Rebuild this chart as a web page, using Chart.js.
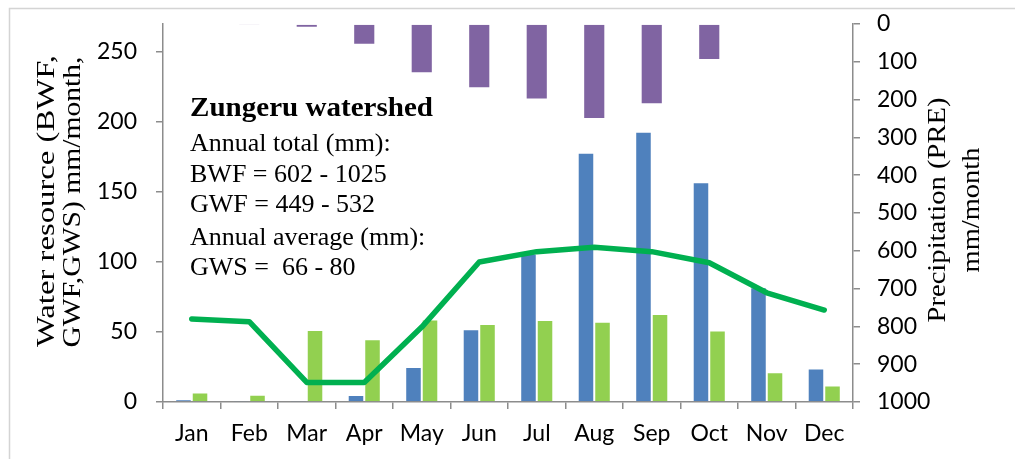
<!DOCTYPE html>
<html>
<head>
<meta charset="utf-8">
<script src="https://cdn.jsdelivr.net/npm/chart.js@4/dist/chart.umd.min.js"></script>
<style>
  html, body { margin: 0; padding: 0; background: #fff; }
  #wrap { position: relative; width: 1015px; height: 459px; }
</style>
</head>
<body>
<div id="wrap"><canvas id="c" width="1015" height="459"></canvas></div>
<script>
// Monthly water resources of the Zungeru watershed
const months = ['Jan', 'Feb', 'Mar', 'Apr', 'May', 'Jun', 'Jul', 'Aug', 'Sep', 'Oct', 'Nov', 'Dec'];
const bwf = [2, 1, 1, 5, 25, 52, 106, 178, 193, 157, 82, 24];          // blue water footprint, mm/month
const gwf = [6.7, 5.2, 51.4, 44.8, 59, 55.7, 58.6, 57.4, 62.9, 51, 21.2, 11.7]; // green water footprint
const gws = [59.3, 57.4, 14, 14, 53.5, 100, 107.4, 110.5, 107.4, 99.5, 78, 65.7]; // green water storage
const pre = [2, 3, 10, 55, 130, 170, 200, 251, 212, 95, 2, 0];         // precipitation, mm/month
const leftTicks = [0, 50, 100, 150, 200, 250];
const rightTicks = [0, 100, 200, 300, 400, 500, 600, 700, 800, 900, 1000];

const leftTitle = ['Water resource (BWF,', 'GWF,GWS) mm/month,'];
const rightTitle = ['Precipitation (PRE)', 'mm/month'];
const noteTitle = 'Zungeru watershed';
const noteLines = ['Annual total (mm):', 'BWF = 602 - 1025', 'GWF = 449 - 532', 'Annual average (mm):', 'GWS =  66 - 80'];

const AXIS = '#8c8c8c';
const TICK_FONT = { family: 'Lato', size: 23 };
const SERIF = '"Liberation Serif", "Times New Roman", serif';

// draw a text line stretched along its own direction to a given length
function fitText(ctx, text, x, y, angle, len, font, align) {
  ctx.save();
  ctx.font = font;
  ctx.translate(x, y);
  ctx.rotate(angle);
  const w = ctx.measureText(text).width;
  ctx.scale(len / w, 1);
  ctx.textAlign = align || 'center';
  ctx.textBaseline = align ? 'alphabetic' : 'middle';
  ctx.fillText(text, 0, 0);
  ctx.restore();
}

const frame = {
  id: 'frame',
  beforeDraw(chart) {
    const ctx = chart.ctx;
    ctx.save();
    ctx.fillStyle = '#fff';
    ctx.fillRect(0, 0, chart.width, chart.height);
    ctx.strokeStyle = '#d4d4d4';
    ctx.lineWidth = 1.5;
    ctx.strokeRect(9.5, 8.5, 1200, 600);
    ctx.restore();
  },
  afterDraw(chart) {
    const ctx = chart.ctx;
    ctx.save();
    ctx.fillStyle = '#000';
    // axis titles
    const f = '26px ' + SERIF;
    fitText(ctx, leftTitle[0], 47, 201, -Math.PI / 2, 292, f);
    fitText(ctx, leftTitle[1], 73, 202, -Math.PI / 2, 291, f);
    fitText(ctx, rightTitle[0], 938, 210, -Math.PI / 2, 225, f);
    fitText(ctx, rightTitle[1], 972, 210, -Math.PI / 2, 125, f);
    // note block
    fitText(ctx, noteTitle, 190, 116, 0, 243, 'bold 27px ' + SERIF, 'left');
    ctx.textAlign = 'left';
    ctx.textBaseline = 'alphabetic';
    ctx.font = '26px ' + SERIF;
    const ys = [151, 182, 212, 245, 275];
    noteLines.forEach((t, i) => ctx.fillText(t, 190, ys[i]));
    ctx.restore();
  }
};

const noVertPad = s => { s.paddingTop = 0; s.paddingBottom = 0; };

new Chart(document.getElementById('c'), {
  data: {
    labels: months,
    datasets: [
      { type: 'line', label: 'GWS', data: gws, yAxisID: 'y',
        borderColor: '#00B050', borderWidth: 5.5, pointRadius: 0, tension: 0,
        borderCapStyle: 'round', borderJoinStyle: 'round', order: 0 },
      { type: 'bar', label: 'BWF', data: bwf, yAxisID: 'y',
        backgroundColor: '#4F81BD', borderColor: 'rgba(255,255,255,0.35)', borderWidth: 1,
        categoryPercentage: 0.575, barPercentage: 1, order: 1 },
      { type: 'bar', label: 'GWF', data: gwf, yAxisID: 'y',
        backgroundColor: '#92D050', borderColor: 'rgba(255,255,255,0.35)', borderWidth: 1,
        categoryPercentage: 0.575, barPercentage: 1, order: 1 },
      { type: 'bar', label: 'PRE', data: pre, yAxisID: 'y2', grouped: false,
        backgroundColor: '#8064A2', borderColor: 'rgba(255,255,255,0.35)', borderWidth: 1,
        categoryPercentage: 0.385, barPercentage: 1, order: 2 }
    ]
  },
  options: {
    responsive: false,
    animation: false,
    layout: { padding: { top: 24, left: 0, right: 0, bottom: 0 } },
    plugins: { legend: { display: false }, tooltip: { enabled: false } },
    scales: {
      x: {
        type: 'category', position: 'bottom', offset: true,
        grid: { display: true, drawOnChartArea: false, offset: true, tickLength: 7, color: AXIS, lineWidth: 1.5 },
        border: { display: true, color: AXIS, width: 1.5 },
        ticks: { color: '#000', font: TICK_FONT, padding: 11, maxRotation: 0, autoSkip: false },
        afterFit(s) { s.height = 57; s.paddingLeft = 0; s.paddingRight = 0; }
      },
      y: {
        position: 'left', min: 0, max: 270,
        afterBuildTicks(s) { s.ticks = leftTicks.map(v => ({ value: v })); },
        grid: { drawOnChartArea: false, tickLength: 7, color: AXIS, lineWidth: 1.5 },
        border: { display: true, color: AXIS, width: 1.5 },
        ticks: { color: '#000', font: TICK_FONT, padding: 19, callback: v => String(v) },
        afterFit(s) { s.width = 163; noVertPad(s); }
      },
      y2: {
        position: 'right', min: 0, max: 1000, reverse: true,
        afterBuildTicks(s) { s.ticks = rightTicks.map(v => ({ value: v })); },
        grid: { drawOnChartArea: false, tickLength: 7, color: AXIS, lineWidth: 1.5 },
        border: { display: true, color: AXIS, width: 1.5 },
        ticks: { color: '#000', font: TICK_FONT, padding: 17, callback: v => String(v) },
        afterFit(s) { s.width = 162; noVertPad(s); }
      }
    }
  },
  plugins: [frame]
});
</script>
</body>
</html>
